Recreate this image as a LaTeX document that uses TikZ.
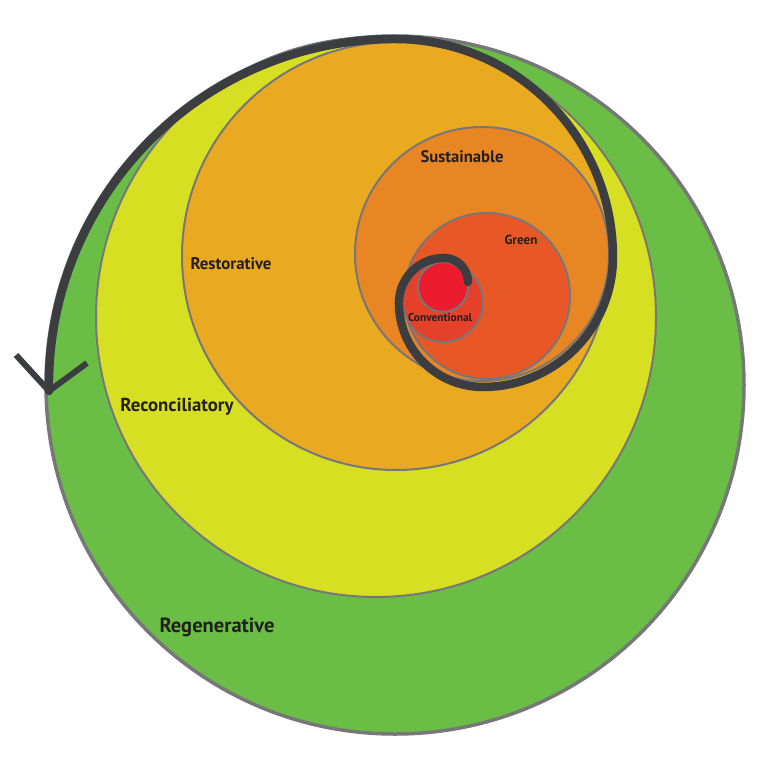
\documentclass[tikz,border=0pt]{standalone}
\usepackage{fontspec}
\setmainfont{PT Sans}
\usepackage{graphicx}
\definecolor{cRegen}{HTML}{6BBE45}
\definecolor{cRecon}{HTML}{D7DF22}
\definecolor{cResto}{HTML}{E9A921}
\definecolor{cSust}{HTML}{E98624}
\definecolor{cGreen}{HTML}{E85726}
\definecolor{cConv}{HTML}{E5412A}
\definecolor{cCore}{HTML}{EC1C2E}
\definecolor{cRing}{HTML}{77777A}
\definecolor{cSpiral}{HTML}{3B3D40}
\definecolor{cText}{HTML}{231F20}
\tikzset{
  ring/.style={draw=cRing, line width=2pt},
  outerring/.style={draw=cRing, line width=3.5pt},
  spiralline/.style={draw=cSpiral, line width=8.5pt, line cap=round},
  arrowline/.style={draw=cSpiral, line width=6pt, line join=miter},
  lbl/.style={inner sep=0pt, text=cText, font=\bfseries},
}
\newcommand{\fitlabel}[2]{\resizebox{#1pt}{!}{#2}}
\begin{document}
\begin{tikzpicture}[x=1pt,y=-1pt]
\useasboundingbox (0,0) rectangle (779,766);
% circles
\fill[cRegen, outerring] (395,385) circle (349);
\fill[cRecon, ring] (376,317) circle (280);
\fill[cResto, ring] (396,256) circle (214);
\fill[cSust, ring] (482,254) circle (127);
\fill[cGreen, ring] (487,296) circle (83);
\fill[cConv, ring] (443,302) circle (40);
\fill[cCore, ring] (443,287) circle (25);
% spiral
\coordinate (tip) at (49,391);
\coordinate (armL) at (16,355);
\coordinate (armR) at (87,363);
\draw[spiralline] (tip)
  arc[start angle=179, end angle=270, radius=346]
  arc[start angle=270, end angle=360, radius=218]
  arc[start angle=0, end angle=90, radius=130]
  arc[start angle=90, end angle=180, radius=84]
  arc[start angle=180, end angle=270, radius=45]
  arc[start angle=270, end angle=360, radius=24];
% arrow head
\draw[arrowline] (armL) -- (tip) -- (armR);
% labels
\node[lbl] (regen) at (217,627) {\fitlabel{115}{Regenerative}};
\node[lbl] (recon) at (177,407) {\fitlabel{113}{Reconciliatory}};
\node[lbl] (resto) at (231,264) {\fitlabel{81}{Restorative}};
\node[lbl] (sust) at (462,157) {\fitlabel{83}{Sustainable}};
\node[lbl] (green) at (521,240) {\fitlabel{33}{Green}};
\node[lbl] (conv) at (440,318) {\fitlabel{64}{Conventional}};
\end{tikzpicture}
\end{document}
